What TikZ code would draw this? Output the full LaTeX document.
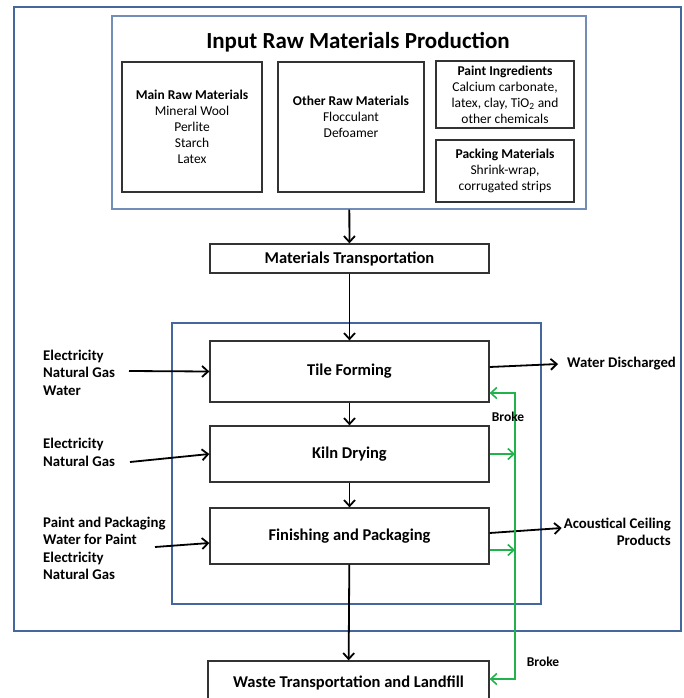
\documentclass[tikz,border=0pt]{standalone}
\usepackage{fontspec}
\setmainfont{Carlito}
\usetikzlibrary{arrows.meta}
\definecolor{frameblue}{RGB}{68,104,158}
\definecolor{brokegreen}{RGB}{34,178,76}
\newcommand{\hd}[1]{\textbf{#1}} % Box heading.

\begin{document}
\begin{tikzpicture}[x=1pt,y=-1pt,
  barb/.tip={Straight Barb[length=6pt,width=11pt]},
  box/.style={draw=black!80,line width=1.3pt,inner sep=0pt,align=center,
    font=\fontsize{13.5}{16}\selectfont},
  proc/.style={box,minimum width=279pt,font=\fontsize{16.5}{20}\selectfont\bfseries},
  frame/.style={draw=frameblue,line width=1.8pt,inner sep=0pt},
  side/.style={inner sep=0pt,align=left,font=\fontsize{14.8}{17.5}\selectfont\bfseries},
  arr/.style={-barb,line width=1.8pt},
  back/.style={-barb,draw=brokegreen,line width=1.6pt},
  note/.style={font=\fontsize{13.5}{16}\selectfont\bfseries}]
\useasboundingbox (0,0) rectangle (684,698);
\draw[frame] (14,7) rectangle (681,631);

% Inputs.
\node[frame,draw=frameblue!75,line width=1.2pt,minimum width=474pt,minimum height=193pt]
  (input) at (349,112.5) {};
\node[font=\fontsize{23}{28}\selectfont\bfseries] (title) at (358,42)
  {Input Raw Materials Production};
\node[box,minimum width=140pt,minimum height=130pt] (main) at (192,127)
  {\hd{Main Raw Materials}\\Mineral Wool\\Perlite\\Starch\\Latex};
\node[box,minimum width=146pt,minimum height=130pt] (other) at (351,127) {};
\node[box,draw=none] (otherlist) at (351,117)
  {\hd{Other Raw Materials}\\Flocculant\\Defoamer};
\node[box,minimum width=138pt,minimum height=67pt] (paint) at (505,94.5)
  {\hd{Paint Ingredients}\\Calcium carbonate,\\latex, clay, TiO\textsubscript{2} and\\other chemicals};
\node[box,minimum width=138pt,minimum height=62pt] (pack) at (505,171)
  {\hd{Packing Materials}\\Shrink-wrap,\\corrugated strips};

% Process chain.
\node[proc,minimum height=29pt] (trans) at (349.5,258.5) {Materials Transportation};
\node[frame,minimum width=369pt,minimum height=281pt] (plant) at (356.5,463.5) {};
\node[proc,minimum height=61pt] (tile) at (349.5,371.5) {Tile Forming};
\node[proc,minimum height=56pt] (kiln) at (349.5,454) {Kiln Drying};
\node[proc,minimum height=56pt] (finish) at (349.5,536) {Finishing and Packaging};
\node[proc,minimum width=281pt,minimum height=44pt] (waste) at (348.5,683)
  {Waste Transportation and Landfill};
\draw[arr] (input) -- (trans);
\draw[arr] (trans) -- (tile);
\draw[arr] (tile) -- (kiln);
\draw[arr] (kiln) -- (finish);
\draw[arr] (finish) -- (waste);

% Energy and water in.
\node[side,anchor=west] (in1) at (43,372.5) {Electricity\\Natural Gas\\Water};
\node[side,anchor=west] (in2) at (43,452.5) {Electricity\\Natural Gas};
\node[side,anchor=west] (in3) at (43,548.5)
  {Paint and Packaging\\Water for Paint\\Electricity\\Natural Gas};
\coordinate (s1) at (129,371);
\coordinate (s2) at (130,462);
\coordinate (s3) at (155,547);
\draw[arr] (s1) -- (tile.west);
\draw[arr] (s2) -- (kiln.west);
\draw[arr] (s3) -- ([yshift=-7pt]finish.west);

% Outputs.
\node[side,anchor=west] (water) at (567,364) {Water Discharged};
\node[side,anchor=east,align=right] (acp) at (671,532) {Acoustical Ceiling\\Products};
\draw[arr] ([yshift=4.5pt]tile.east) -- ([xshift=-9pt]water.west);
\draw[arr] ([yshift=3pt]finish.east) -- ([xshift=-2pt,yshift=4pt]acp.west);

% Broke loop.
\coordinate (bt) at (515,393);
\coordinate (bb) at (515,679);
\coordinate (fg) at ([yshift=-14pt]finish.east);
\draw[back,barb-barb] (bt -| tile.east) -- (bt) -- (bb) -- (bb -| waste.east);
\draw[back] (kiln.east) -- (kiln.east -| bt);
\draw[back] (fg) -- (fg -| bt);
\node[note] (broke1) at (508,417) {Broke};
\node[note] (broke2) at (543,662) {Broke};
\end{tikzpicture}
\end{document}
